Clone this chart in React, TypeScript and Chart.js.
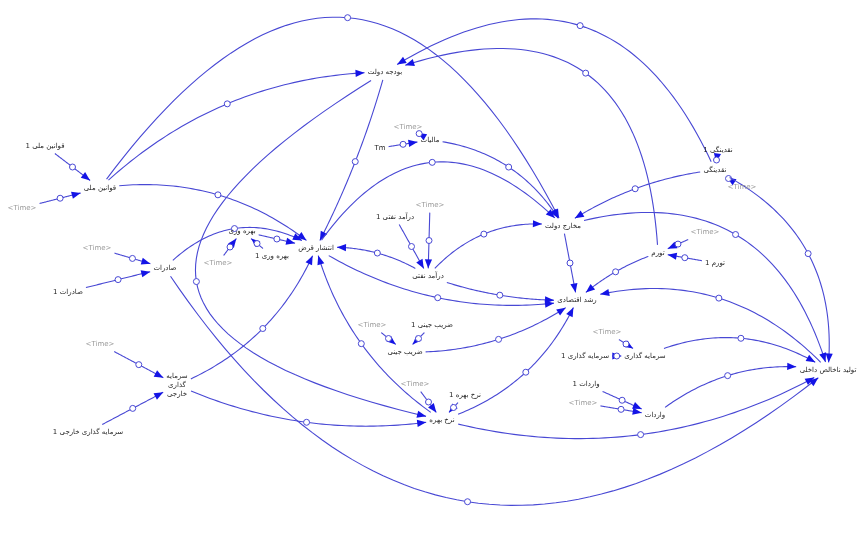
import React, { useEffect, useRef } from "react";
import { Chart, registerables } from "chart.js";

Chart.register(...registerables);

// ---- diagram data (Vensim-style causal loop diagram) ----
const nodeNames: string[] = [
  "بودجه دولت", // 0
  "قوانین ملی", // 1
  "قوانین ملی 1", // 2
  "<Time>", // 3
  "انتشار قرض", // 4
  "بهره وری", // 5
  "<Time>", // 6
  "بهره وری 1", // 7
  "صادرات", // 8
  "<Time>", // 9
  "صادرات 1", // 10
  "درآمد نفتی", // 11
  "درآمد نفتی 1", // 12
  "<Time>", // 13
  "مخارج دولت", // 14
  "رشد اقتصادی", // 15
  "مالیات", // 16
  "Tm", // 17
  "<Time>", // 18
  "نقدینگی", // 19
  "نقدینگی 1", // 20
  "<Time>", // 21
  "تورم", // 22
  "تورم 1", // 23
  "<Time>", // 24
  "ضریب جینی", // 25
  "ضریب جینی 1", // 26
  "<Time>", // 27
  "نرخ بهره", // 28
  "نرخ بهره 1", // 29
  "<Time>", // 30
  "سرمایه\nگذاری\nخارجی", // 31
  "<Time>", // 32
  "سرمایه گذاری خارجی 1", // 33
  "سرمایه گذاری", // 34
  "سرمایه گذاری 1", // 35
  "<Time>", // 36
  "واردات", // 37
  "واردات 1", // 38
  "<Time>", // 39
  "تولید ناخالص داخلی", // 40
];

const nodeX: number[] = [
  385, 100, 45, 22, 316, 242, 218, 272, 165, 97, 68, 428, 395, 430, 563, 577,
  430, 380, 408, 715, 718, 742, 658, 715, 705, 405, 432, 372, 442, 465, 415,
  177, 100, 88, 645, 585, 607, 655, 586, 583, 828,
];

const nodeY: number[] = [
  72, 188, 146, 208, 248, 231, 263, 256, 268, 248, 292, 276, 217, 205, 226, 300,
  140, 148, 127, 170, 150, 187, 253, 263, 232, 352, 325, 325, 420, 395, 384,
  385, 344, 432, 356, 356, 332, 415, 384, 403, 370,
];

// 1 = shadow variable (grey)
const nodeShadow: number[] = nodeNames.map((n) => (n === "<Time>" ? 1 : 0));

const linkFrom: number[] = [
  2, 3, 6, 7, 5, 9, 10, 13, 12, 18, 17, 20, 21, 24, 23, 27, 26, 30, 29, 32, 33,
  36, 35, 38, 39,
  1, 1, 1, 0, 16, 4, 19, 14, 11, 11, 11, 4, 22, 19, 22, 40, 14, 19, 34, 37, 28,
  8, 28, 28, 31, 31, 0, 25, 8,
];
const linkTo: number[] = [
  1, 1, 5, 5, 4, 8, 8, 11, 11, 16, 16, 19, 19, 22, 22, 25, 25, 28, 28, 31, 31,
  34, 34, 37, 37,
  0, 14, 4, 4, 14, 14, 14, 15, 14, 4, 15, 15, 0, 0, 15, 15, 40, 40, 40, 40, 40,
  40, 15, 4, 4, 28, 28, 15, 4,
];
const linkBend: number[] = [
  0, 0, 0, 0, 0, 0, 0, 0, 0, 0, 0, 0, 0, 0, 0, 0, 0, 0, 0, 0, 0,
  0, 0, 0, 0,
  -60, -380, -50, -10, -40, -150, 20, 0, -40, 20, 15, 50, 220, 200, 10, 80, -150,
  -80, -50, -40, 80, 370, 40, -40, 40, 40, 440, 30, -60,
];

const FONT = "7px 'DejaVu Sans'";
const LINE_H = 9;
const LINK_COLOR = "#4848d4";
const HEAD_COLOR = "#1414e6";

const diagramPlugin = {
  id: "diagram",
  afterDatasetsDraw(chart: any) {
    const ctx: CanvasRenderingContext2D = chart.ctx;
    const xs = chart.scales.x;
    const ys = chart.scales.y;
    const px = (i: number) => xs.getPixelForValue(nodeX[i]);
    const py = (i: number) => ys.getPixelForValue(nodeY[i]);
    ctx.save();
    ctx.font = FONT;
    const boxes = nodeNames.map((name) => {
      const lines = name.split("\n");
      const w = Math.max(...lines.map((l) => ctx.measureText(l).width));
      return { w, h: lines.length * LINE_H };
    });
    const inside = (x: number, y: number, i: number) =>
      Math.abs(x - px(i)) <= boxes[i].w / 2 + 3 &&
      Math.abs(y - py(i)) <= boxes[i].h / 2 + 3;

    for (let k = 0; k < linkFrom.length; k++) {
      const f = linkFrom[k];
      const t = linkTo[k];
      const sx = px(f), sy = py(f), tx = px(t), ty = py(t);
      const dx = tx - sx, dy = ty - sy;
      const len = Math.hypot(dx, dy) || 1;
      const nx = -dy / len, ny = dx / len;
      const cx = (sx + tx) / 2 + nx * linkBend[k];
      const cy = (sy + ty) / 2 + ny * linkBend[k];
      const q = (u: number) => {
        const a = (1 - u) * (1 - u), b = 2 * (1 - u) * u, c = u * u;
        return [a * sx + b * cx + c * tx, a * sy + b * cy + c * ty];
      };
      const N = 400;
      let u0 = 0, u1 = 1;
      for (let i = 0; i <= N; i++) {
        const p = q(i / N);
        if (!inside(p[0], p[1], f)) { u0 = i / N; break; }
      }
      for (let i = N; i >= 0; i--) {
        const p = q(i / N);
        if (!inside(p[0], p[1], t)) { u1 = i / N; break; }
      }
      ctx.strokeStyle = LINK_COLOR;
      ctx.lineWidth = 1.1;
      ctx.beginPath();
      const steps = 60;
      for (let i = 0; i <= steps; i++) {
        const u = u0 + ((u1 - u0) * i) / steps;
        const p = q(u);
        if (i === 0) ctx.moveTo(p[0], p[1]);
        else ctx.lineTo(p[0], p[1]);
      }
      ctx.stroke();
      // arrow head
      const pe = q(u1);
      const pb = q(Math.max(u0, u1 - 0.01));
      let ax = pe[0] - pb[0], ay = pe[1] - pb[1];
      const al = Math.hypot(ax, ay) || 1;
      ax /= al; ay /= al;
      const L = 9, W = 3.6;
      ctx.fillStyle = HEAD_COLOR;
      ctx.beginPath();
      ctx.moveTo(pe[0], pe[1]);
      ctx.lineTo(pe[0] - ax * L - ay * W, pe[1] - ay * L + ax * W);
      ctx.lineTo(pe[0] - ax * L + ay * W, pe[1] - ay * L - ax * W);
      ctx.closePath();
      ctx.fill();
      // small circle on the link
      const pm = q((u0 + u1) / 2);
      ctx.beginPath();
      ctx.arc(pm[0], pm[1], 3, 0, Math.PI * 2);
      ctx.fillStyle = "#ffffff";
      ctx.fill();
      ctx.strokeStyle = LINK_COLOR;
      ctx.lineWidth = 1;
      ctx.stroke();
    }

    // labels
    ctx.textAlign = "center";
    ctx.textBaseline = "middle";
    nodeNames.forEach((name, i) => {
      const lines = name.split("\n");
      ctx.fillStyle = nodeShadow[i] ? "#9a9a9a" : "#1e1e1e";
      lines.forEach((l, j) => {
        ctx.fillText(l, px(i), py(i) + (j - (lines.length - 1) / 2) * LINE_H);
      });
    });
    ctx.restore();
  },
};

export default function App() {
  const ref = useRef<HTMLCanvasElement | null>(null);
  useEffect(() => {
    if (!ref.current) return;
    const chart = new Chart(ref.current, {
      type: "scatter",
      data: {
        datasets: [
          {
            data: nodeX.map((x, i) => ({ x, y: nodeY[i] })),
            pointRadius: 0,
            showLine: false,
          },
        ],
      },
      options: {
        animation: false,
        responsive: true,
        maintainAspectRatio: false,
        layout: { padding: 0 },
        plugins: { legend: { display: false }, tooltip: { enabled: false } },
        scales: {
          x: { type: "linear", min: 8, max: 860, display: false },
          y: { type: "linear", min: 8, max: 540, reverse: true, display: false },
        },
      },
      plugins: [diagramPlugin],
    });
    return () => chart.destroy();
  }, []);
  return (
    <div style={{ width: 852, height: 532, position: "relative" }}>
      <canvas ref={ref} />
    </div>
  );
}
